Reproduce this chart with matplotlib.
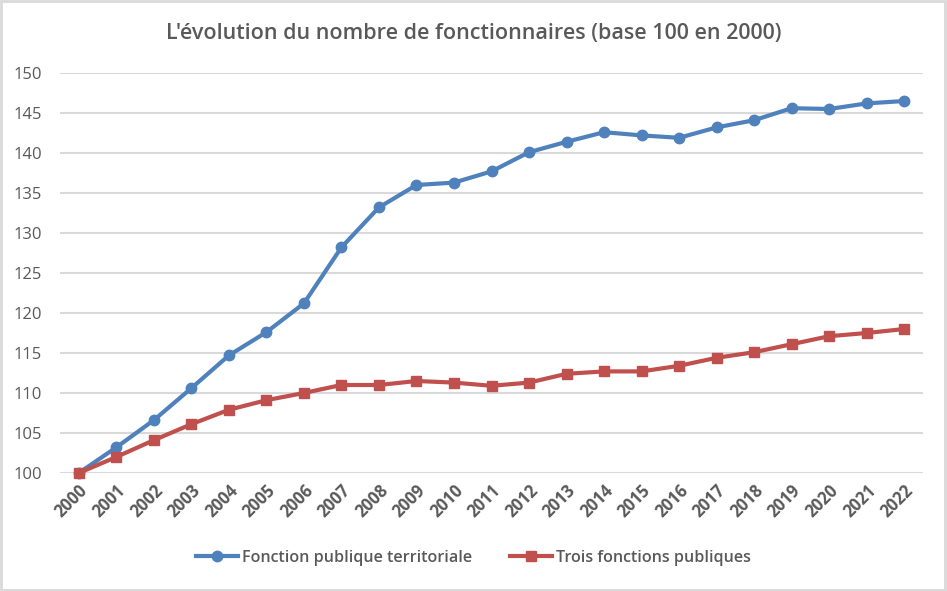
import matplotlib
matplotlib.use("Agg")
import matplotlib.pyplot as plt
from matplotlib.patches import Rectangle

years = list(range(2000, 2023))
territoriale = [100.0, 103.2, 106.6, 110.6, 114.7, 117.6, 121.2, 128.2, 133.2, 136.0,
                136.3, 137.7, 140.1, 141.4, 142.6, 142.2, 141.9, 143.2, 144.1, 145.6,
                145.5, 146.2, 146.5]
trois_fp = [100.0, 102.0, 104.1, 106.1, 107.9, 109.1, 110.0, 111.0, 111.0, 111.5,
            111.3, 110.9, 111.3, 112.4, 112.7, 112.7, 113.4, 114.4, 115.1, 116.1,
            117.1, 117.5, 118.0]
y_ticks = list(range(100, 151, 5))

BLUE = "#4F81BD"
RED = "#C0504D"
TEXT = "#595959"
GRID = "#D9D9D9"

plt.rcParams["font.family"] = ["Open Sans", "DejaVu Sans"]

fig = plt.figure(figsize=(9.47, 5.91), dpi=100)
ax = fig.add_axes([60 / 947, 1 - 473 / 591, (923 - 60) / 947, (473 - 73) / 591])

x = list(range(len(years)))
ax.plot(x, territoriale, color=BLUE, lw=3, marker="o", ms=7.5,
        label="Fonction publique territoriale", clip_on=False, zorder=3)
ax.plot(x, trois_fp, color=RED, lw=3, marker="s", ms=7,
        label="Trois fonctions publiques", clip_on=False, zorder=3)

ax.set_xlim(-0.5, len(years) - 0.5)
ax.set_ylim(100, 150)
ax.set_yticks(y_ticks)
ax.set_yticklabels([str(v) for v in y_ticks], fontsize=12, color=TEXT)
ax.set_xticks(x)
ax.set_xticklabels([str(y) for y in years], rotation=45, ha="right",
                   rotation_mode="anchor", fontsize=12, fontweight="bold", color=TEXT)
ax.tick_params(axis="both", length=0)
ax.tick_params(axis="y", pad=13)
ax.tick_params(axis="x", pad=6)
ax.grid(axis="y", color=GRID, lw=1.5)
ax.set_axisbelow(True)
for s in ax.spines.values():
    s.set_visible(False)

fig.suptitle("L'évolution du nombre de fonctionnaires (base 100 en 2000)",
             y=1 - 33 / 591, va="center", fontsize=15.5, fontweight="semibold",
             color=TEXT)

leg = fig.legend(loc="center", bbox_to_anchor=(0.5, 1 - 558 / 591), ncol=2,
                 frameon=False, handlelength=2.6, columnspacing=2.4,
                 handletextpad=0.25, prop={"size": 11.6, "weight": "semibold"})
for t in leg.get_texts():
    t.set_color(TEXT)

fig.patches.append(Rectangle((0.001, 0.001), 0.997, 0.997, transform=fig.transFigure,
                             fill=False, edgecolor=GRID, lw=2))

fig.savefig("out.png", dpi=100, facecolor="white")
